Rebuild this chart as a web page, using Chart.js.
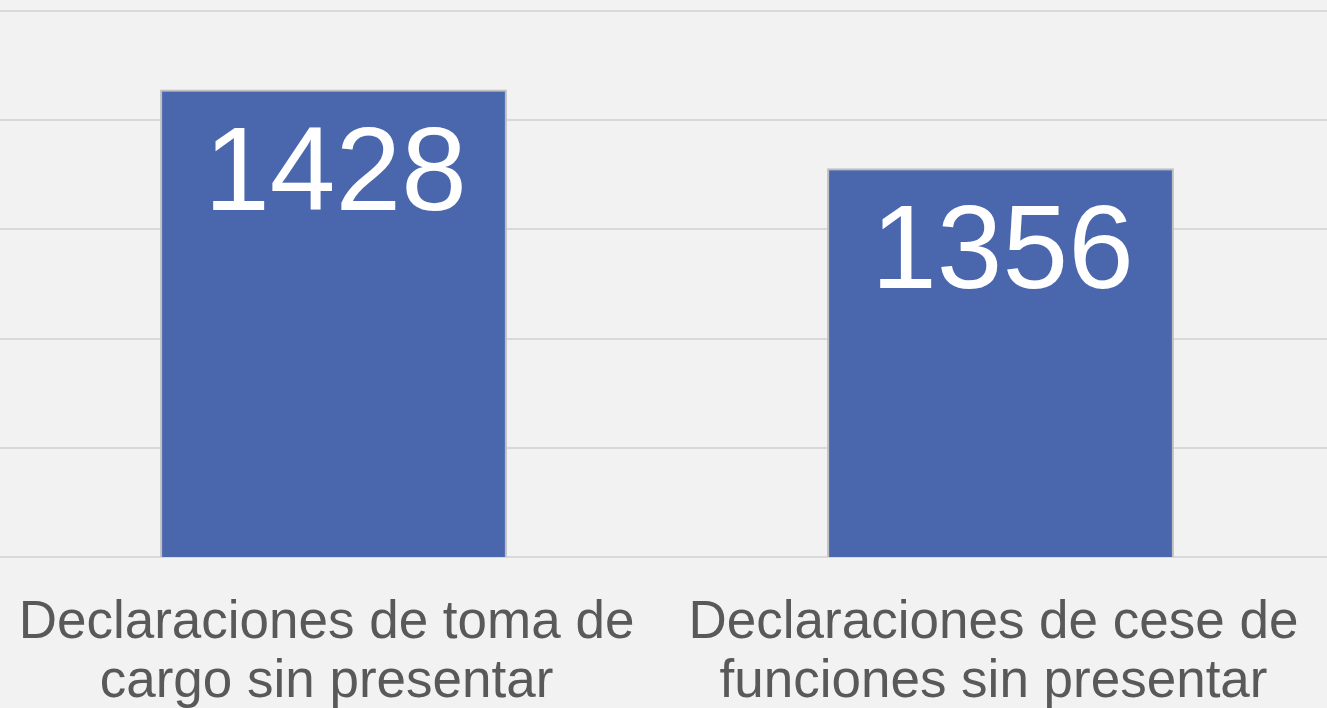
<!DOCTYPE html>
<html>
<head>
<meta charset="utf-8">
<script src="https://cdn.jsdelivr.net/npm/chart.js@4.4.1/dist/chart.umd.min.js"></script>
<style>
    html, body { margin: 0; padding: 0; background: #f2f2f2; overflow: hidden; }
    #wrap { width: 1334px; height: 760px; position: relative; }
</style>
</head>
<body>
<div id="wrap"><canvas id="chart"></canvas></div>
<script>
const categories = [
    ["Declaraciones de toma de", "cargo sin presentar"],
    ["Declaraciones de cese de", "funciones sin presentar"]
];
const values = [1428, 1356];
const yMin = 1000;
const yMax = 1500;
const yStep = 100;

// white numbers inside the top of each bar
const barLabels = {
    id: "barLabels",
    afterDatasetsDraw(chart) {
        const ctx = chart.ctx;
        const meta = chart.getDatasetMeta(0);
        ctx.save();
        ctx.fillStyle = "#ffffff";
        ctx.font = "118px 'Liberation Sans', Arial, sans-serif";
        ctx.textAlign = "center";
        ctx.textBaseline = "alphabetic";
        meta.data.forEach((bar, i) => {
            ctx.fillText(String(values[i]), bar.x + 2, bar.y + 120);
        });
        ctx.restore();
    }
};

const ctx = document.getElementById("chart").getContext("2d");
new Chart(ctx, {
    type: "bar",
    data: {
        labels: categories,
        datasets: [{
            data: values,
            backgroundColor: "#4a67ae",
            borderColor: "#bfbfbf",
            borderWidth: 2,
            categoryPercentage: 1,
            barPercentage: 0.52
        }]
    },
    options: {
        responsive: true,
        maintainAspectRatio: false,
        animation: false,
        layout: { padding: { top: 11, left: 0, right: 0, bottom: 0 } },
        plugins: { legend: { display: false }, tooltip: { enabled: false } },
        scales: {
            x: {
                grid: { display: false, drawTicks: false },
                border: { display: false },
                ticks: {
                    color: "#595959",
                    padding: 36,
                    labelOffset: -7,
                    maxRotation: 0,
                    autoSkip: false,
                    font: { family: "'Liberation Sans', Arial, sans-serif", size: 53, lineHeight: 1.13 }
                },
                afterFit(scale) {
                    scale.height = 760 - 557;
                    // labels may run to the edge, keep the plot full width
                    scale.paddingLeft = 0;
                    scale.paddingRight = 0;
                }
            },
            y: {
                min: yMin,
                max: yMax,
                ticks: { display: false, stepSize: yStep },
                grid: { color: "#d9d9d9", lineWidth: 2, drawTicks: false },
                border: { display: false },
                afterFit(scale) { scale.width = 0; }
            }
        }
    },
    plugins: [barLabels]
});
</script>
</body>
</html>
